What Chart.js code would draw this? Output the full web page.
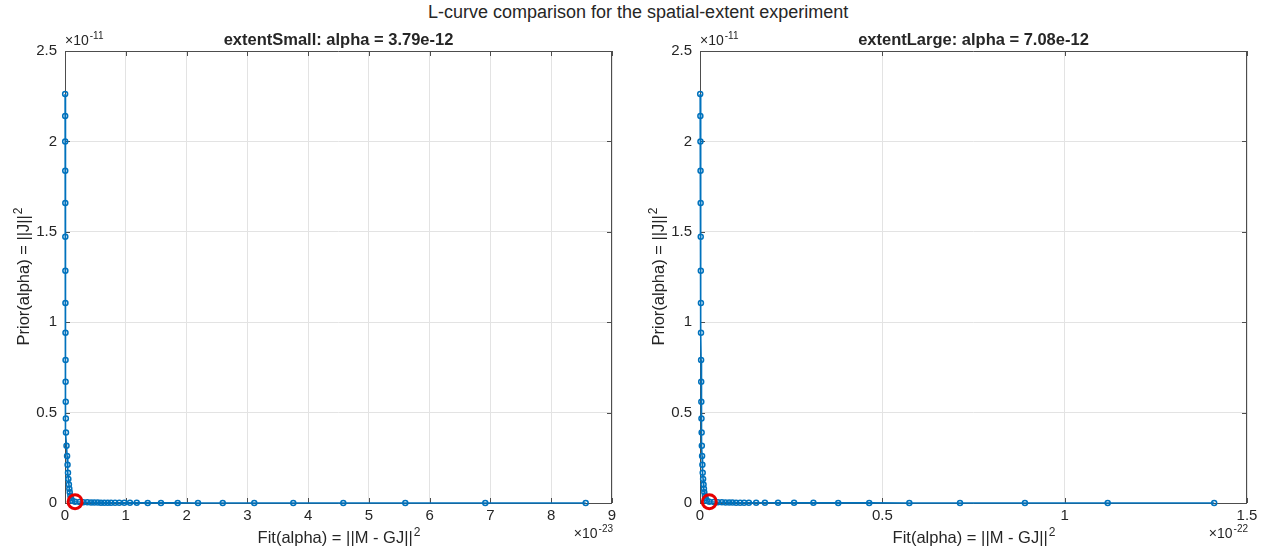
<!DOCTYPE html>
<html>
<head>
<meta charset="utf-8">
<script src="https://cdn.jsdelivr.net/npm/chart.js@4.4.1/dist/chart.umd.min.js"></script>
<style>
    body { margin: 0; background: #fff; width: 1270px; height: 553px; position: relative; overflow: hidden; }
    #suptitle { position: absolute; left: 428px; top: 2px; white-space: nowrap; font: 18px "Liberation Sans", Arial, sans-serif; color: #262626; }
    .panel { position: absolute; top: 0; width: 635px; height: 553px; }
</style>
</head>
<body>
<div id="suptitle">L-curve comparison for the spatial-extent experiment</div>
<div class="panel" style="left:0"><canvas id="small"></canvas></div>
<div class="panel" style="left:635px"><canvas id="large"></canvas></div>
<script>
// extentSmall, fit in units of 1e-23, prior in units of 1e-11
const smallFit = [0.002, 0.003, 0.003, 0.004, 0.005, 0.005, 0.006, 0.007, 0.008, 0.009, 0.010, 0.012, 0.014,
    0.016, 0.025, 0.034, 0.042, 0.049, 0.055, 0.064, 0.071, 0.078, 0.088, 0.100, 0.120, 0.165,
    0.239, 0.301, 0.367, 0.428, 0.482, 0.538, 0.592, 0.647, 0.703, 0.757, 0.823, 0.893, 0.976,
    1.069, 1.180, 1.361, 1.579, 1.854, 2.188, 2.595, 3.114, 3.756, 4.579, 5.599, 6.915, 8.567];
const smallPrior = [2.262, 2.140, 1.999, 1.838, 1.659, 1.473, 1.285, 1.106, 0.942, 0.791, 0.671, 0.560, 0.468,
    0.390, 0.317, 0.260, 0.212, 0.168, 0.133, 0.103, 0.079, 0.059, 0.040, 0.026, 0.013, 0.007,
    0.0055, 0.0045, 0.0038, 0.0032, 0.0027, 0.0023, 0.0020, 0.0017, 0.0015, 0.0013, 0.0011, 0.0010, 0.0009,
    0.0008, 0.0007, 0.0006, 0.0005, 0.00045, 0.0004, 0.00035, 0.0003, 0.00025, 0.0002, 0.00018, 0.00015, 0.00012];
const smallCorner = 25;

// extentLarge, fit in units of 1e-22, prior in units of 1e-11
const largeFit = [0.0005, 0.001, 0.0012, 0.0015, 0.0018, 0.002, 0.0022, 0.0025, 0.0027, 0.003, 0.0033, 0.0036, 0.004,
    0.0045, 0.005, 0.0057, 0.0065, 0.0074, 0.0085, 0.0097, 0.0108, 0.0118, 0.0135, 0.0156, 0.019, 0.0255,
    0.038, 0.049, 0.060, 0.070, 0.080, 0.089, 0.099, 0.110, 0.121, 0.134, 0.154, 0.178, 0.214,
    0.258, 0.311, 0.379, 0.464, 0.574, 0.713, 0.891, 1.118, 1.410];
const largePrior = [2.262, 2.140, 1.999, 1.838, 1.659, 1.473, 1.285, 1.106, 0.942, 0.791, 0.671, 0.560, 0.468,
    0.390, 0.317, 0.260, 0.212, 0.168, 0.133, 0.103, 0.079, 0.059, 0.040, 0.026, 0.013, 0.007,
    0.0055, 0.0045, 0.0038, 0.0032, 0.0027, 0.0023, 0.002, 0.0017, 0.0015, 0.0013, 0.0011, 0.001, 0.0009,
    0.0008, 0.0007, 0.0006, 0.0005, 0.0004, 0.0003, 0.00025, 0.0002, 0.00015];
const largeCorner = 25;

const smallTitle = 'extentSmall: alpha = 3.79e-12';
const largeTitle = 'extentLarge: alpha = 7.08e-12';
const smallXTicks = [0, 1, 2, 3, 4, 5, 6, 7, 8, 9];
const largeXTicks = [0, 0.5, 1, 1.5];
const priorTicks = [0, 0.5, 1, 1.5, 2, 2.5];

const FONT = '"Liberation Sans", Arial, sans-serif';
const TEXT = '#262626';
const BLUE = 'rgb(0, 114, 189)';

Chart.defaults.font.family = FONT;
Chart.defaults.font.size = 15;
Chart.defaults.color = TEXT;

// text with a raised exponent, e.g. ||J||^2
function drawSup(ctx, base, sup, x, y, size, align) {
    ctx.font = size + 'px ' + FONT;
    let w1 = ctx.measureText(base).width;
    ctx.font = Math.round(size * 0.72) + 'px ' + FONT;
    let w2 = ctx.measureText(sup).width;
    let x0 = x;
    if (align === 'center') x0 = x - (w1 + w2) / 2;
    if (align === 'right') x0 = x - (w1 + w2);
    ctx.textAlign = 'left';
    ctx.textBaseline = 'alphabetic';
    ctx.font = size + 'px ' + FONT;
    ctx.fillText(base, x0, y);
    ctx.font = Math.round(size * 0.72) + 'px ' + FONT;
    ctx.fillText(sup, x0 + w1 + 1, y - size * 0.45);
}

const matlabAxes = {
    id: 'matlabAxes',
    beforeDatasetsDraw(chart, args, opts) {
        let ctx = chart.ctx;
        let a = chart.chartArea;
        let xs = chart.scales.x;
        let ys = chart.scales.y;
        ctx.save();
        ctx.strokeStyle = '#4d4d4d';
        ctx.lineWidth = 1;
        ctx.beginPath();
        ctx.rect(a.left + 0.5, a.top + 0.5, a.right - a.left - 1, a.bottom - a.top);
        ctx.stroke();
        ctx.beginPath();
        xs.ticks.forEach(t => {
            let px = Math.round(xs.getPixelForValue(t.value)) + 0.5;
            ctx.moveTo(px, a.bottom); ctx.lineTo(px, a.bottom - 5);
            ctx.moveTo(px, a.top); ctx.lineTo(px, a.top + 5);
        });
        ys.ticks.forEach(t => {
            let py = Math.round(ys.getPixelForValue(t.value)) + 0.5;
            ctx.moveTo(a.left, py); ctx.lineTo(a.left + 5, py);
            ctx.moveTo(a.right, py); ctx.lineTo(a.right - 5, py);
        });
        ctx.stroke();
        ctx.restore();
    },
    afterDraw(chart, args, opts) {
        let ctx = chart.ctx;
        let a = chart.chartArea;
        let cx = (a.left + a.right) / 2;
        ctx.save();
        ctx.fillStyle = TEXT;
        // subplot title
        ctx.font = 'bold 16.5px ' + FONT;
        ctx.textAlign = 'center';
        ctx.textBaseline = 'alphabetic';
        ctx.fillText(opts.title, cx, a.top - 6);
        // exponent labels
        drawSup(ctx, '\u00d710', '-11', a.left, a.top - 6, 14, 'left');
        drawSup(ctx, '\u00d710', opts.xExp, a.right, a.bottom + 35, 14, 'right');
        // axis titles
        drawSup(ctx, 'Fit(alpha) = ||M - GJ||', '2', cx, a.bottom + 40, 16.5, 'center');
        ctx.translate(29, (a.top + a.bottom) / 2);
        ctx.rotate(-Math.PI / 2);
        drawSup(ctx, 'Prior(alpha) = ||J||', '2', 0, 0, 16.5, 'center');
        ctx.restore();
    }
};

function makePanel(id, fit, prior, corner, xTicks, title, xExp) {
    let points = fit.map((f, i) => ({ x: f, y: prior[i] }));
    return new Chart(document.getElementById(id), {
        type: 'scatter',
        data: {
            datasets: [
                {
                    data: [points[corner]],
                    showLine: false,
                    pointRadius: 7,
                    pointBorderWidth: 3,
                    pointBorderColor: 'rgb(230, 0, 0)',
                    pointBackgroundColor: 'rgba(0, 0, 0, 0)',
                    clip: false,
                },
                {
                    data: points,
                    showLine: true,
                    borderColor: BLUE,
                    borderWidth: 1.6,
                    pointRadius: 2.5,
                    pointBorderWidth: 1.5,
                    pointBorderColor: BLUE,
                    pointBackgroundColor: 'rgba(0, 0, 0, 0)',
                    clip: false,
                },
            ],
        },
        options: {
            responsive: false,
            animation: false,
            layout: { padding: { top: 51, right: 23, left: 0, bottom: 0 } },
            plugins: {
                legend: { display: false },
                tooltip: { enabled: false },
                matlabAxes: { title: title, xExp: xExp },
            },
            scales: {
                x: {
                    type: 'linear',
                    min: xTicks[0],
                    max: xTicks[xTicks.length - 1],
                    afterBuildTicks: s => { s.ticks = xTicks.map(v => ({ value: v })); },
                    afterFit: s => { s.height = 50; },
                    ticks: { padding: 4, color: TEXT, font: { size: 15 }, callback: v => String(v) },
                    grid: { color: '#e3e3e3', drawTicks: false },
                    border: { display: false },
                },
                y: {
                    type: 'linear',
                    min: 0,
                    max: 2.5,
                    afterBuildTicks: s => { s.ticks = priorTicks.map(v => ({ value: v })); },
                    afterFit: s => { s.width = 65; },
                    ticks: { padding: 8, color: TEXT, font: { size: 15 }, callback: v => String(v) },
                    grid: { color: '#e3e3e3', drawTicks: false },
                    border: { display: false },
                },
            },
        },
        plugins: [matlabAxes],
    });
}

window.onload = () => {
    for (let id of ['small', 'large']) {
        let c = document.getElementById(id);
        c.width = 635;
        c.height = 553;
    }
    let small = makePanel('small', smallFit, smallPrior, smallCorner, smallXTicks, smallTitle, '-23');
    let large = makePanel('large', largeFit, largePrior, largeCorner, largeXTicks, largeTitle, '-22');
};
</script>
</body>
</html>
